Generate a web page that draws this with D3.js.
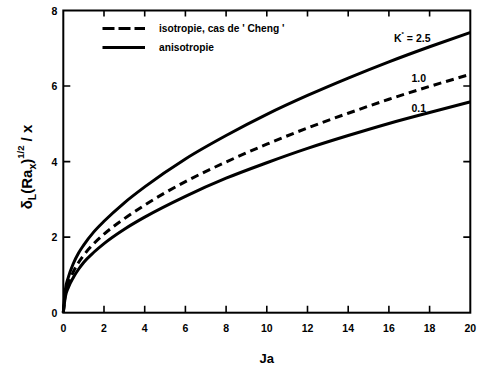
<!DOCTYPE html>
<html><head><meta charset="utf-8">
<script src="https://cdn.jsdelivr.net/npm/d3@7"></script>
<style>
html,body{margin:0;padding:0;background:#fff;}
text{font-family:"Liberation Sans",Arial,sans-serif;font-weight:bold;fill:#000;}
</style></head>
<body><svg id="c" width="481" height="365"></svg>
<script>
// Data
const ja = [0, 0.1, 0.25, 0.5, 0.75, 1, 1.5, 2, 3, 4, 6, 8, 10, 12, 14, 16, 18, 20];
const aniso25 = [0, 0.60, 0.94, 1.31, 1.58, 1.79, 2.14, 2.42, 2.91, 3.33, 4.07, 4.69, 5.25, 5.75, 6.21, 6.64, 7.04, 7.42];
const iso10   = [0, 0.49, 0.78, 1.09, 1.33, 1.52, 1.83, 2.08, 2.49, 2.85, 3.47, 3.99, 4.46, 4.89, 5.28, 5.65, 5.99, 6.31];
const aniso01 = [0, 0.42, 0.67, 0.94, 1.15, 1.33, 1.60, 1.83, 2.21, 2.53, 3.08, 3.56, 3.97, 4.35, 4.69, 5.01, 5.30, 5.58];
const xTicks = [0, 2, 4, 6, 8, 10, 12, 14, 16, 18, 20];
const yTicks = [0, 2, 4, 6, 8];
const legendLabels = ["isotropie, cas de ' Cheng '", "anisotropie"];
const curveLabels = ["2.5", "1.0", "0.1"];

const svg = d3.select("#c");
const L = 63.3, T = 10.5, W = 407, H = 302.2;
const x = d3.scaleLinear().domain([0, 20]).range([L, L + W]);
const y = d3.scaleLinear().domain([0, 8]).range([T + H, T]);

// inward ticks as one path
const tk = 7;
const innerX = xTicks.filter(d => d > 0 && d < 20);
const innerY = yTicks.filter(d => d > 0 && d < 8);
const p = d3.path();
innerX.forEach(d => {
  p.moveTo(x(d), T + H); p.lineTo(x(d), T + H - tk);
  p.moveTo(x(d), T); p.lineTo(x(d), T + tk - 1);
});
innerY.forEach(d => {
  p.moveTo(L, y(d)); p.lineTo(L + tk, y(d));
  p.moveTo(L + W, y(d)); p.lineTo(L + W - tk, y(d));
});
svg.append("path").attr("d", p.toString()).attr("fill", "none")
  .attr("stroke", "#000").attr("stroke-width", 1.6);

// frame
svg.append("rect").attr("x", L).attr("y", T).attr("width", W).attr("height", H)
  .attr("fill", "none").attr("stroke", "#000").attr("stroke-width", 2);

// tick labels
svg.selectAll(null).data(xTicks).enter().append("text")
  .attr("x", d => x(d)).attr("y", T + H + 19).attr("text-anchor", "middle")
  .attr("font-size", 10.5).text(d => d);
svg.selectAll(null).data(yTicks).enter().append("text")
  .attr("x", L - 6).attr("y", d => y(d) + 4).attr("text-anchor", "end")
  .attr("font-size", 10.5).text(d => d);

// curves
const line = d3.line().x((d, i) => x(ja[i])).y(d => y(d)).curve(d3.curveMonotoneX);
const series = [
  {v: aniso25, dash: null},
  {v: iso10, dash: "8,5"},
  {v: aniso01, dash: null}
];
svg.selectAll("path.s").data(series).enter().append("path").attr("class", "s")
  .attr("d", d => line(d.v)).attr("fill", "none").attr("stroke", "#000")
  .attr("stroke-width", 3).attr("stroke-dasharray", d => d.dash);

// legend
const lg = [{dash: "12,4", y: 28.5}, {dash: null, y: 47.5}];
lg.forEach((d, i) => {
  svg.append("line").attr("x1", 102.5).attr("x2", 145).attr("y1", d.y).attr("y2", d.y)
    .attr("stroke", "#000").attr("stroke-width", 3).attr("stroke-dasharray", d.dash);
  svg.append("text").attr("x", 159).attr("y", d.y + 3.8).attr("font-size", 10.2).text(legendLabels[i]);
});

// curve labels
const k = svg.append("text").attr("x", 394).attr("y", 41.5).attr("font-size", 10.5);
k.append("tspan").text("K");
k.append("tspan").attr("font-size", 6).attr("dy", -6).text("*");
k.append("tspan").attr("dy", 6).text(" = " + curveLabels[0]);
svg.append("text").attr("x", 411.5).attr("y", 81.5).attr("font-size", 10.5).text(curveLabels[1]);
svg.append("text").attr("x", 411.5).attr("y", 112).attr("font-size", 10.5).text(curveLabels[2]);

// axis titles
svg.append("text").attr("x", x(10)).attr("y", 363).attr("text-anchor", "middle").attr("font-size", 13).text("Ja");
const yt = svg.append("text").attr("transform", `translate(32,${167}) rotate(-90)`)
  .attr("text-anchor", "middle").attr("font-size", 15);
yt.append("tspan").text("δ");
yt.append("tspan").attr("font-size", 10.5).attr("dy", 4).text("L");
yt.append("tspan").attr("dy", -4).text("(Ra");
yt.append("tspan").attr("font-size", 10.5).attr("dy", 4).text("x");
yt.append("tspan").attr("dy", -4).text(")");
yt.append("tspan").attr("font-size", 9.5).attr("dy", -8).text("1/2");
yt.append("tspan").attr("dy", 8).text(" / x");
</script></body></html>
